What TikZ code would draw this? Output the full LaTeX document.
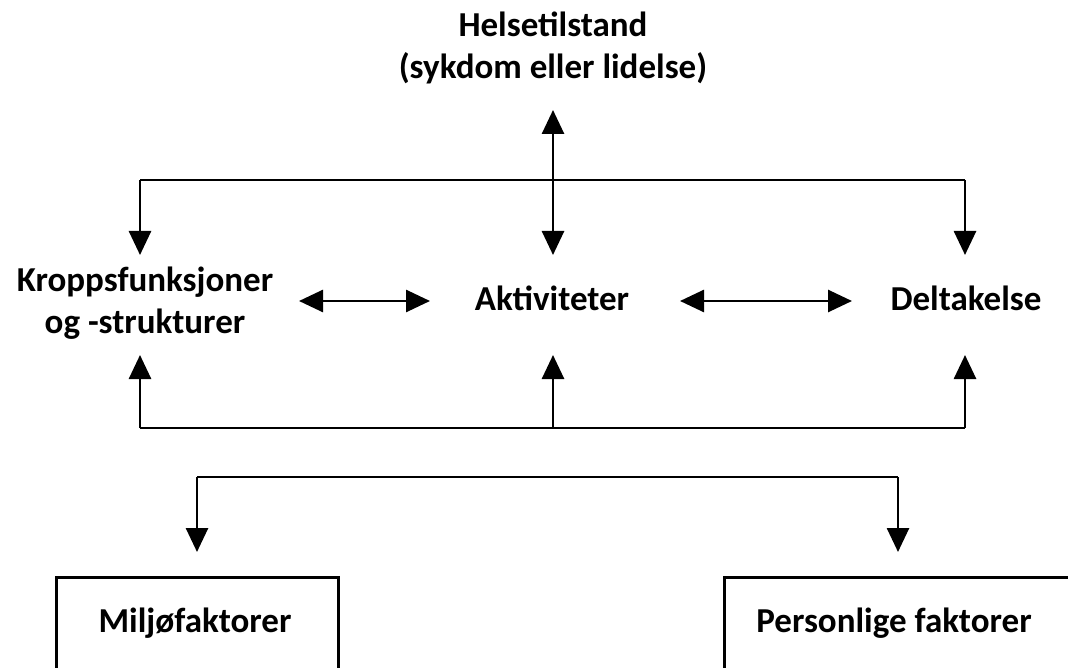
\documentclass[tikz,border=0pt]{standalone}
\usepackage{fontspec}
\setmainfont{Carlito}
\usetikzlibrary{arrows.meta}
\begin{document}
\begin{tikzpicture}[x=1pt,y=-1pt,
  lbl/.style={font=\fontsize{35}{42}\selectfont\bfseries, inner sep=0pt, align=center},
  conn/.style={line width=2.7pt, draw=black},
  tipped/.style={conn, -{Triangle[width=22pt,length=24pt]}},
  twotip/.style={conn, {Triangle[width=22pt,length=24pt]}-{Triangle[width=22pt,length=24pt]}},
  framebox/.style={draw=black, line width=2.7pt, inner sep=0pt}]
\useasboundingbox (0,0) rectangle (1068,668);
\clip (0,0) rectangle (1068,668);
\fill[white] (0,0) rectangle (1068,668);

% text nodes (base = baseline of last line)
\node[lbl, anchor=base] (helse) at (553,79) {Helsetilstand\\(sykdom eller lidelse)};
\node[lbl, anchor=base] (kropp) at (145,333) {Kroppsfunksjoner\\og -strukturer};
\node[lbl, anchor=base] (akt) at (552,310) {Aktiviteter};
\node[lbl, anchor=base] (delt) at (966,311) {Deltakelse};

% boxes
\node[framebox, minimum width=282pt, minimum height=150pt, anchor=north west] (miljobox) at (55,576) {};
\node[framebox, minimum width=420pt, minimum height=150pt, anchor=north west] (persbox) at (723,576) {};
\node[lbl, anchor=base] (miljo) at (195,632) {Miljøfaktorer};
\node[lbl, anchor=base] (pers) at (894,632) {Personlige faktorer};

% junction coordinates
\coordinate (tL) at (140,180);
\coordinate (tM) at (553,180);
\coordinate (tR) at (965,180);
\coordinate (bL) at (140,428);
\coordinate (bM) at (553,428);
\coordinate (bR) at (965,428);
\coordinate (lL) at (197,477);
\coordinate (lR) at (898,477);

% arrow tips
\coordinate (helseIn) at (553,110);
\coordinate (aktTop) at (553,255);
\coordinate (kroppTop) at (140,255);
\coordinate (deltTop) at (965,255);
\coordinate (kroppBot) at (140,355);
\coordinate (aktBot) at (553,355);
\coordinate (deltBot) at (965,355);
\coordinate (kroppR) at (299,301);
\coordinate (aktL) at (430,301);
\coordinate (aktR) at (680,301);
\coordinate (deltL) at (852,301);
\coordinate (miljoIn) at (197,552);
\coordinate (persIn) at (898,552);

% top distribution
\draw[twotip] (helseIn) -- (aktTop);
\draw[conn] (tL) -- (tR);
\draw[tipped] (tL) -- (kroppTop);
\draw[tipped] (tR) -- (deltTop);

% horizontal interactions
\draw[twotip] (kroppR) -- (aktL);
\draw[twotip] (aktR) -- (deltL);

% bottom collection
\draw[conn] (bL) -- (bR);
\draw[tipped] (bL) -- (kroppBot);
\draw[tipped] (bM) -- (aktBot);
\draw[tipped] (bR) -- (deltBot);

% context factors
\draw[conn] (lL) -- (lR);
\draw[tipped] (lL) -- (miljoIn);
\draw[tipped] (lR) -- (persIn);
\end{tikzpicture}
\end{document}
